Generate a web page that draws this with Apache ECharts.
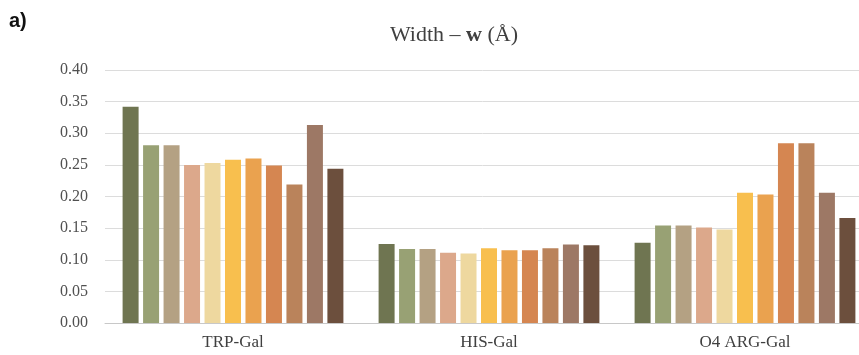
<!DOCTYPE html>
<html>
<head>
<meta charset="utf-8">
<script src="https://cdn.jsdelivr.net/npm/echarts@6/dist/echarts.min.js"></script>
<style>
  html, body { margin: 0; padding: 0; background: #fff; }
  #chart { width: 859px; height: 355px; }
</style>
</head>
<body>
<div id="chart"></div>
<script>
// Complexes on the category axis
const categories = ['TRP-Gal', 'HIS-Gal', 'O4 ARG-Gal'];

// Width w (Å) per structure, one array per series (values for TRP-Gal, HIS-Gal, O4 ARG-Gal)
const s1  = [0.342, 0.125, 0.127];
const s2  = [0.281, 0.117, 0.154];
const s3  = [0.281, 0.117, 0.154];
const s4  = [0.250, 0.111, 0.151];
const s5  = [0.253, 0.110, 0.148];
const s6  = [0.258, 0.118, 0.206];
const s7  = [0.260, 0.115, 0.203];
const s8  = [0.249, 0.115, 0.284];
const s9  = [0.219, 0.118, 0.284];
const s10 = [0.313, 0.124, 0.206];
const s11 = [0.244, 0.123, 0.166];

const seriesValues = [s1, s2, s3, s4, s5, s6, s7, s8, s9, s10, s11];

// Y axis ticks
const yTicks = [0, 0.05, 0.10, 0.15, 0.20, 0.25, 0.30, 0.35, 0.40];

const palette = ['#6f7551', '#98a174', '#b4a183', '#dca88b', '#eed89f',
                 '#f8bf4e', '#eaa24f', '#d58651', '#ba835b', '#9d7865', '#6c4f3d'];

const serif = '"Liberation Serif", "Times New Roman", serif';

const chart = echarts.init(document.getElementById('chart'), null, { renderer: 'canvas' });

chart.setOption({
  animation: false,
  backgroundColor: '#fff',
  graphic: [{
    type: 'text',
    left: 9,
    top: 11,
    style: { text: 'a)', font: 'bold 20px "Liberation Sans", Arial, sans-serif', fill: '#111' }
  }],
  title: {
    text: '{n|Width – }{b|w}{n| (Å)}',
    left: 449,
    textAlign: 'center',
    top: 19,
    textStyle: {
      fontWeight: 'normal',
      rich: {
        n: { fontFamily: serif, fontSize: 22, color: '#404040', fontWeight: 'normal' },
        b: { fontFamily: serif, fontSize: 22, color: '#404040', fontWeight: 'bold' }
      }
    }
  },
  // plot area continues slightly past the right edge of the canvas
  grid: { left: 105, width: 768, top: 70, bottom: 32, containLabel: false, outerBoundsMode: 'none' },
  xAxis: {
    type: 'category',
    data: categories,
    axisLine: { lineStyle: { color: '#c8c8c8', width: 1 } },
    axisTick: { show: false },
    axisLabel: {
      fontFamily: serif,
      fontSize: 17,
      color: '#404040',
      margin: 11
    }
  },
  yAxis: {
    type: 'value',
    min: yTicks[0],
    max: yTicks[yTicks.length - 1],
    interval: 0.05,
    axisLine: { show: false },
    axisTick: { show: false },
    splitLine: { lineStyle: { color: '#dcdcdc', width: 1 } },
    axisLabel: {
      fontFamily: serif,
      fontSize: 16,
      color: '#505050',
      margin: 17,
      formatter: v => v.toFixed(2)
    }
  },
  series: seriesValues.map((vals, i) => ({
    type: 'bar',
    name: 'S' + (i + 1),
    data: vals,
    barWidth: 16,
    barGap: '28%',
    itemStyle: { color: palette[i] }
  }))
});
</script>
</body>
</html>
